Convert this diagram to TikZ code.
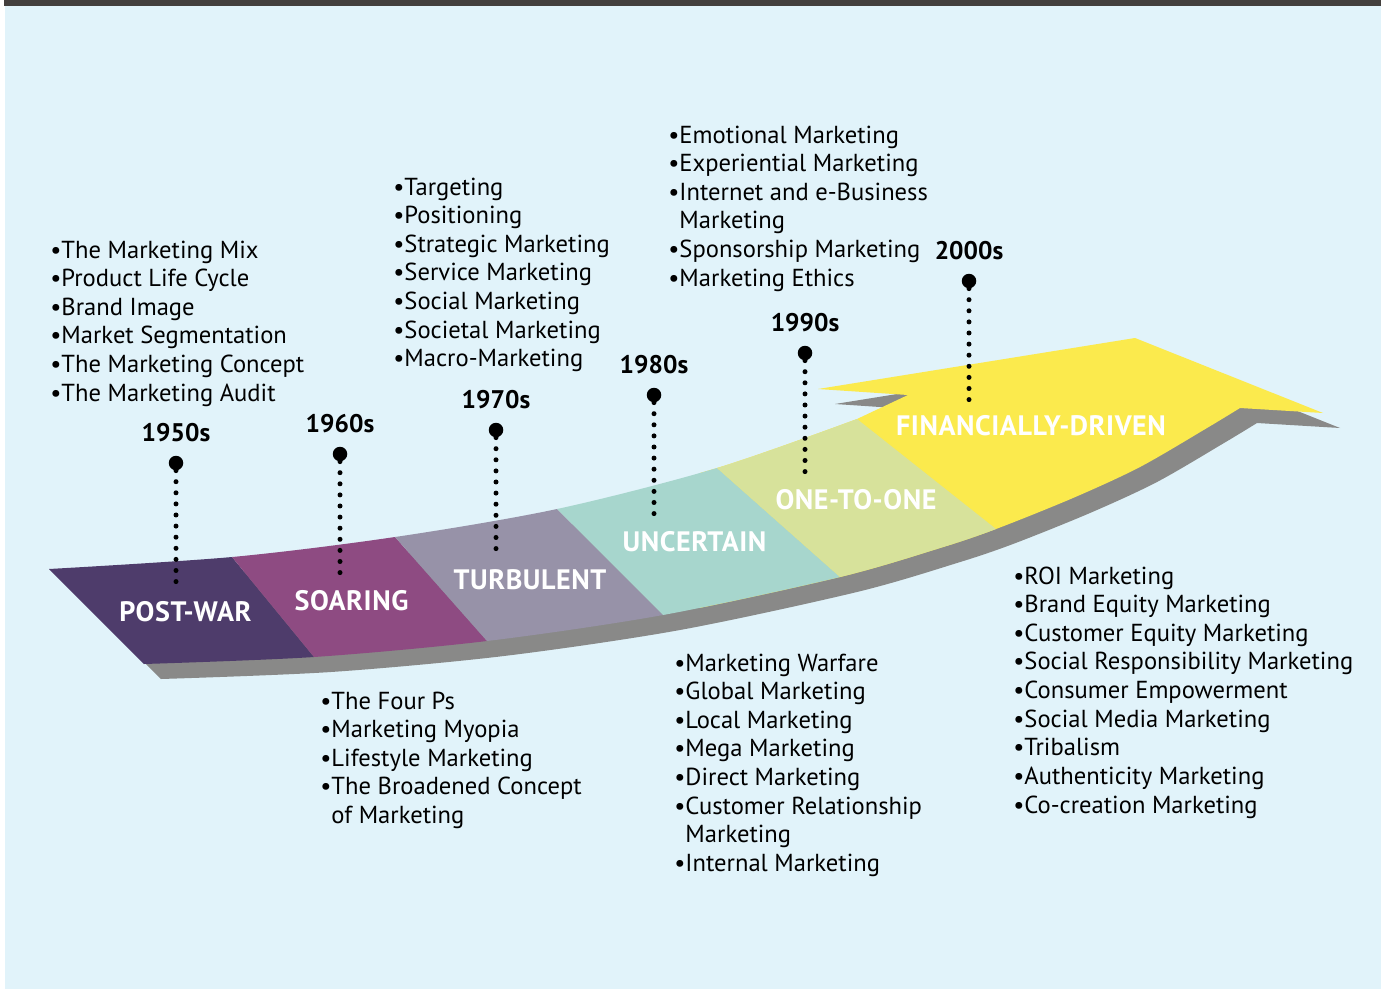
\documentclass[tikz,border=0pt]{standalone}
\usepackage{fontspec}
\setmainfont{PT Sans}
\newfontfamily\labelfont[LetterSpace=2]{PT Sans}
\usetikzlibrary{positioning,calc}

\definecolor{bgblue}{HTML}{E1F3FA}
\definecolor{topbar}{HTML}{433F3D}
\definecolor{postwar}{HTML}{4E3C6B}
\definecolor{soaring}{HTML}{8E4B82}
\definecolor{turbulent}{HTML}{9792A8}
\definecolor{uncertain}{HTML}{A7D6CD}
\definecolor{onetoone}{HTML}{D7E29B}
\definecolor{financial}{HTML}{FBEA4D}
\definecolor{shadegray}{HTML}{898988}

% outline of the big arrow (pixel units)
\newcommand{\bandpath}{plot[smooth] coordinates {(49,569) (232,557) (395,537) (557,509) (717,468) (857,419)}
  -- (908,395) -- (818,389) -- (1135,338) -- (1323,413) -- (1240,408)
  -- plot[smooth] coordinates {(1240,408) (1207,428) (1140,467) (1073,498) (996,529) (940,548) (840,577) (663,615) (487,641) (314,657) (144,664)} -- cycle}

\newcommand{\bul}{\textbullet}
\newcommand{\nobul}{\phantom{\textbullet}}

\begin{document}
\begin{tikzpicture}[
                x=0.02cm, y=-0.02cm,
                seglabel/.style={
                    text=white,
                    inner sep=0pt,
                    font=\labelfont\bfseries\fontsize{16}{18}\selectfont
                },
                year/.style={
                    inner sep=0pt,
                    font=\bfseries\fontsize{14.5}{16}\selectfont
                },
                bigdot/.style={
                    circle,
                    fill=black,
                    inner sep=0pt,
                    minimum size=0.29cm
                },
                dotline/.style={
                    line width=0.1cm,
                    line cap=round,
                    dash pattern=on 0pt off 0.222cm
                },
                items/.style={
                    anchor=base west,
                    inner sep=0pt,
                    font=\fontsize{14}{16.3}\selectfont
                }
            ]
    \useasboundingbox (0,0) rectangle (1381,990);
    \fill[white] (0,0) rectangle (1381,990);
    \fill[bgblue] (5,6) rectangle (1381,989);
    \fill[topbar] (4,0) rectangle (1381,6);

    % band boundaries
    \coordinate (t0) at (49,569);  \coordinate (b0) at (144,664);
    \coordinate (t1) at (232,557); \coordinate (b1) at (314,657);
    \coordinate (t2) at (395,537); \coordinate (b2) at (487,641);
    \coordinate (t3) at (557,509); \coordinate (b3) at (663,615);
    \coordinate (t4) at (717,468); \coordinate (b4) at (840,577);
    \coordinate (t5) at (857,419); \coordinate (b5) at (996,529);

    % shadow
    \fill[shadegray, shift={(17,15)}] \bandpath;

    \begin{scope}
        \clip \bandpath;
        \fill[financial] (700,300) rectangle (1400,700);
        \fill[postwar] ($(b0)!1.4!(t0)$) -- ($(t0)!1.4!(b0)$) -- ($(t1)!1.4!(b1)$) -- ($(b1)!1.4!(t1)$) -- cycle;
        \fill[soaring] ($(b1)!1.4!(t1)$) -- ($(t1)!1.4!(b1)$) -- ($(t2)!1.4!(b2)$) -- ($(b2)!1.4!(t2)$) -- cycle;
        \fill[turbulent] ($(b2)!1.4!(t2)$) -- ($(t2)!1.4!(b2)$) -- ($(t3)!1.4!(b3)$) -- ($(b3)!1.4!(t3)$) -- cycle;
        \fill[uncertain] ($(b3)!1.4!(t3)$) -- ($(t3)!1.4!(b3)$) -- ($(t4)!1.4!(b4)$) -- ($(b4)!1.4!(t4)$) -- cycle;
        \fill[onetoone] ($(b4)!1.4!(t4)$) -- ($(t4)!1.4!(b4)$) -- ($(t5)!1.4!(b5)$) -- (t5) -- cycle;
    \end{scope}

    \node[seglabel] (pw) at (185.5,612) {POST-WAR};
    \node[seglabel] (so) at (351.5,601) {SOARING};
    \node[seglabel] (tu) at (530,579.5) {TURBULENT};
    \node[seglabel] (un) at (694.5,542) {UNCERTAIN};
    \node[seglabel] (oo) at (856,500) {ONE-TO-ONE};
    \node[seglabel] (fd) at (1031,425.5) {FINANCIALLY-DRIVEN};

    % decade markers
    \node[bigdot] (d50) at (176,463) {};
    \node[bigdot] (d60) at (340,454) {};
    \node[bigdot] (d70) at (496,430) {};
    \node[bigdot] (d80) at (654,395) {};
    \node[bigdot] (d90) at (805,353) {};
    \node[bigdot] (d00) at (969,281) {};
    \coordinate (e50) at (176,584);
    \coordinate (e60) at (340,575);
    \coordinate (e70) at (496,550);
    \coordinate (e80) at (654,516);
    \coordinate (e90) at (805,474);
    \coordinate (e00) at (969,402);

    \node[year, above=0.26cm of d50] (y50) {1950s};
    \node[year, above=0.26cm of d60] (y60) {1960s};
    \node[year, above=0.26cm of d70] (y70) {1970s};
    \node[year, above=0.26cm of d80] (y80) {1980s};
    \node[year, above=0.26cm of d90] (y90) {1990s};
    \node[year, above=0.26cm of d00] (y00) {2000s};

    \draw[dotline] (d50) -- (e50);
    \draw[dotline] (d60) -- (e60);
    \draw[dotline] (d70) -- (e70);
    \draw[dotline] (d80) -- (e80);
    \draw[dotline] (d90) -- (e90);
    \draw[dotline] (d00) -- (e00);

    % concept lists
    \node[items] (l50) at (50,258) {\begin{tabular}[t]{@{}l@{}}
        \bul The Marketing Mix\\ \bul Product Life Cycle\\ \bul Brand Image\\
        \bul Market Segmentation\\ \bul The Marketing Concept\\ \bul The Marketing Audit
    \end{tabular}};
    \node[items] (l60) at (320,709) {\begin{tabular}[t]{@{}l@{}}
        \bul The Four Ps\\ \bul Marketing Myopia\\ \bul Lifestyle Marketing\\
        \bul The Broadened Concept\\ \nobul of Marketing
    \end{tabular}};
    \node[items] (l70) at (393,195) {\begin{tabular}[t]{@{}l@{}}
        \bul Targeting\\ \bul Positioning\\ \bul Strategic Marketing\\ \bul Service Marketing\\
        \bul Social Marketing\\ \bul Societal Marketing\\ \bul Macro-Marketing
    \end{tabular}};
    \node[items] (l80) at (674,671) {\begin{tabular}[t]{@{}l@{}}
        \bul Marketing Warfare\\ \bul Global Marketing\\ \bul Local Marketing\\ \bul Mega Marketing\\
        \bul Direct Marketing\\ \bul Customer Relationship\\ \nobul Marketing\\ \bul Internal Marketing
    \end{tabular}};
    \node[items] (l90) at (668,143) {\begin{tabular}[t]{@{}l@{}}
        \bul Emotional Marketing\\ \bul Experiential Marketing\\ \bul Internet and e-Business\\
        \nobul Marketing\\ \bul Sponsorship Marketing\\ \bul Marketing Ethics
    \end{tabular}};
    \node[items] (l00) at (1013,584) {\begin{tabular}[t]{@{}l@{}}
        \bul ROI Marketing\\ \bul Brand Equity Marketing\\ \bul Customer Equity Marketing\\
        \bul Social Responsibility Marketing\\ \bul Consumer Empowerment\\ \bul Social Media Marketing\\
        \bul Tribalism\\ \bul Authenticity Marketing\\ \bul Co-creation Marketing
    \end{tabular}};
\end{tikzpicture}
\end{document}
